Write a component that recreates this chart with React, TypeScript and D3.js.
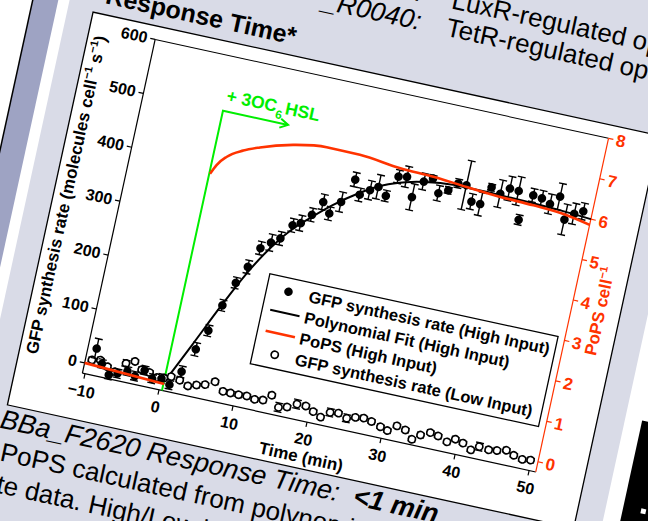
import React, { useEffect } from 'react';
import * as d3 from 'd3';

// GFP synthesis rate, high input (filled dots with error bars)
const hiTime = [-9.2, -8.1, -6.9, -5.8, -4.6, -3.5, -2.4, -1.2,
  0.0, 1.2, 2.4, 3.6, 4.7, 5.8, 6.9, 8.0, 9.1, 10.3,
  11.4, 12.6, 13.6, 14.8, 15.9, 17.0, 18.2, 19.4, 20.4, 21.6,
  22.6, 23.8, 24.9, 26.0, 27.2, 28.3, 29.4, 30.5, 31.7, 32.8,
  33.9, 35.0, 36.2, 37.2, 38.5, 39.6, 40.8, 41.6, 42.8, 44.0,
  45.2, 46.3, 47.5, 48.6, 49.7];
const hiRate = [30, 5, -12, -6, 2, -4, 10, -2,
  2, -6, 22, 67, 105, 155, 200, 233, 271, 285,
  296, 324, 331, 350, 377, 359, 384, 429, 404, 416,
  425, 412, 451, 454, 420, 452, 461, 437, 446, 462,
  462, 435, 434, 468, 460, 473, 472, 421, 470, 468,
  461, 478, 439, 453, 461];
const hiErr = [18, 8, 8, 8, 8, 8, 8, 8,
  8, 8, 10, 12, 10, 10, 10, 12, 12, 15,
  12, 12, 14, 12, 14, 12, 18, 13, 12, 17,
  22, 10, 12, 19, 24, 15, 6, 14, 6, 8,
  45, 14, 21, 6, 25, 22, 26, 9, 12, 14,
  18, 24, 28, 19, 15];

// GFP synthesis rate, low input (open circles)
const loTime = [-9.5, -8.4, -7.3, -6.2, -5.0, -3.9, -2.8, -1.7, -0.6,
  0.3, 1.2, 2.4, 3.6, 4.7, 5.8, 7.0, 8.3, 9.3, 10.4,
  11.5, 12.6, 13.7, 14.7, 15.9, 17.0, 18.2, 19.4, 20.5, 21.6,
  22.7, 23.8, 25.0, 26.1, 27.2, 28.3, 29.6, 30.6, 31.7, 32.9,
  34.0, 35.0, 36.2, 37.3, 38.6, 39.6, 40.7, 41.9, 42.9, 44.2,
  45.3, 46.5, 47.6, 48.8, 49.9];
const loRate = [8, 11, 2, -4, 15, 22, 10, 8, 2,
  4, 9, 6, -1, 4, 8, 17, 3, 3, 3,
  4, 1, 3, 15, -4, 0, 9, 9, 2, -5,
  7, 9, 3, 8, 10, 7, 1, -3, 9, 5,
  -9, 2, 10, 7, 0, 8, 4, -5, 4, 2,
  4, 8, 2, -2, 0];
const loErr = [4, 4, 4, 4, 6, 4, 4, 4, 4,
  4, 4, 4, 4, 4, 4, 4, 4, 4, 4,
  4, 4, 4, 4, 8, 4, 8, 4, 4, 4,
  7, 4, 7, 4, 4, 4, 4, 4, 4, 4,
  4, 4, 4, 4, 4, 4, 4, 4, 7, 4,
  4, 4, 4, 4, 4];

// polynomial fit (high input)
const fitTime = [0.5, 3.0, 5.7, 8.0, 10.5, 12.8, 15.0, 17.2, 20.3, 23.2, 26.0, 29.5, 33.0, 36.3, 40.0, 43.0, 46.5, 50.9];
const fitRate = [-2, 73, 155, 220, 278, 319, 348, 375, 407, 430, 444, 454, 458, 458, 457, 456, 454, 450];

// PoPS (high input), right axis
const popsPreTime = [-10.35, 0.5];
const popsPreValue = [0.0, -0.09];
const popsTime = [0.5, 1.1, 2.2, 4.15, 6.2, 10.4, 14.8, 19.3, 24.9, 29.4, 34.0, 38.6, 43.1, 47.7, 50.9];
const popsValue = [5.11, 5.35, 5.6, 5.83, 5.99, 6.22, 6.34, 6.33, 6.22, 6.19, 6.12, 6.06, 6.03, 5.97, 5.86];

const xTicks = [-10, 0, 10, 20, 30, 40, 50];
const yTicks = [0, 100, 200, 300, 400, 500, 600];
const popsTicks = [0, 1, 2, 3, 4, 5, 6, 7, 8];
const legendLabels = [
  'GFP synthesis rate (High Input)',
  'Polynomial Fit (High Input)',
  'PoPS (High Input)',
  'GFP synthesis rate (Low Input)',
];

// induction annotation (time, level in GFP units)
const inductionTime = 0.4;
const arrowEndTime = 9.2;
const arrowLevel = 500;

const FONT = '"Liberation Sans", Arial, Helvetica, sans-serif';
const RED = '#ff3300';
const GREEN = '#00ee00';
const PANEL = '#d9dbe7';
const STRIP = '#9ea3c3';
const ANGLE = 12.3;

export default function App() {
  useEffect(() => {
    document.body.style.margin = '0';
  }, []);

  // plot frame (unrotated slide coords)
  const left = 160, right = 624, top = 5.5, bottom = 347;
  const x = d3.scaleLinear().domain([-10.35, 50.9]).range([left, right]);
  const y = d3.scaleLinear().domain([-19, 600]).range([bottom, top]);
  const yPops = d3.scaleLinear().domain([-19 / 75, 8]).range([bottom, top]);
  const fmt = d3.format('d');

  const fitPath = d3.line<number>()
    .x((_, i) => x(fitTime[i]))
    .y(d => y(d))
    .curve(d3.curveMonotoneX)(fitRate);
  const popsPath = d3.line<number>()
    .x((_, i) => x(popsTime[i]))
    .y(d => yPops(d))
    .curve(d3.curveMonotoneX)(popsValue);
  const popsPrePath = d3.line<number>()
    .x((_, i) => x(popsPreTime[i]))
    .y(d => yPops(d))(popsPreValue);

  const errBar = (t: number, v: number, e: number, key: string) => {
    const cx = x(t);
    return (
      <g key={key} stroke="#000" strokeWidth={1.4}>
        <line x1={cx} x2={cx} y1={y(v - e)} y2={y(v + e)} />
        <line x1={cx - 4} x2={cx + 4} y1={y(v - e)} y2={y(v - e)} />
        <line x1={cx - 4} x2={cx + 4} y1={y(v + e)} y2={y(v + e)} />
      </g>
    );
  };

  const legX = 322, legY = 210, legW = 295, legH = 92, rowH = 21.5;

  return (
    <svg width={648} height={521} style={{ display: 'block', position: 'absolute', left: 0, top: 0 }}
      fontFamily={FONT}>
      <rect width={648} height={521} fill="#fff" />
      <g transform={`rotate(${ANGLE})`}>
        {/* slide background */}
        <rect x={68} y={-300} width={1000} height={1200} fill={PANEL} />
        <rect x={32} y={-300} width={25} height={1200} fill={STRIP} />
        <line x1={32} x2={32} y1={-300} y2={900} stroke="#000" strokeWidth={1.5} />
        <rect x={700} y={-300} width={300} height={1200} fill="#fff" />
        <rect x={717} y={274} width={300} height={600} fill="#000" />
        <rect x={735} y={360} width={5} height={5} fill="#fff" />

        {/* slide texts */}
        <text x={297} y={-19} fontSize={25} fontWeight="bold" textAnchor="end">Response Time*</text>
        <text x={412} y={-88} fontSize={26} fontStyle="italic" textAnchor="end">BBa_R0062:</text>
        <text x={442} y={-88} fontSize={26}>LuxR-regulated operator</text>
        <text x={416} y={-60} fontSize={26.5} fontStyle="italic" textAnchor="end">_R0040:</text>
        <text x={442} y={-60} fontSize={26}>TetR-regulated operator</text>

        <text x={90} y={418} fontSize={27} fontStyle="italic">
          BBa_F2620 Response Time:<tspan fontWeight="bold">{'\u00a0\u00a0<1 min'}</tspan>
        </text>
        <text x={97} y={450} fontSize={26}>PoPS calculated from polynomial fit to GFP synthesis</text>
        <text x={77} y={482} fontSize={26}>rate data.  High/Low input = 5 nM / 0 nM 3OC6HSL</text>

        {/* white chart box */}
        <rect x={93.5} y={-8} width={579.5} height={402} fill="#fff" stroke="#000" strokeWidth={1.3} />

        {/* frame */}
        <line x1={left} x2={right} y1={top} y2={top} stroke="#000" strokeWidth={1} />
        <line x1={left} x2={left} y1={top} y2={bottom} stroke="#000" strokeWidth={1.2} />
        <line x1={left} x2={right} y1={bottom} y2={bottom} stroke="#000" strokeWidth={1.2} />
        <line x1={right} x2={right} y1={top} y2={bottom} stroke={RED} strokeWidth={1.2} />

        {/* left axis */}
        {yTicks.map(t => (
          <g key={'y' + t}>
            <line x1={left - 5} x2={left} y1={y(t)} y2={y(t)} stroke="#000" strokeWidth={1.2} />
            <text x={left - 8} y={y(t) + 5.5} fontSize={16} fontWeight="bold" textAnchor="end">{fmt(t)}</text>
          </g>
        ))}
        <text transform={`translate(112,${(top + bottom) / 2}) rotate(-90)`} fontSize={17} fontWeight="bold" textAnchor="middle">
          GFP synthesis rate (molecules cell<tspan fontSize={11} dy={-7}>−1</tspan>
          <tspan dy={7}> s</tspan><tspan fontSize={11} dy={-7}>−1</tspan><tspan dy={7}>)</tspan>
        </text>

        {/* bottom axis */}
        {xTicks.map(t => (
          <g key={'x' + t}>
            <line x1={x(t)} x2={x(t)} y1={bottom} y2={bottom + 5} stroke="#000" strokeWidth={1.2} />
            <text x={x(t)} y={bottom + 23} fontSize={16} fontWeight="bold" textAnchor="middle">{fmt(t).replace('-', '−')}</text>
          </g>
        ))}
        <text x={x(20.2)} y={bottom + 41} fontSize={17} fontWeight="bold" textAnchor="middle">Time (min)</text>

        {/* right axis */}
        {popsTicks.map(t => (
          <g key={'p' + t}>
            <line x1={right} x2={right + 5} y1={yPops(t)} y2={yPops(t)} stroke={RED} strokeWidth={1.2} />
            <text x={right + 8} y={yPops(t) + 6} fontSize={17} fontWeight="bold" fill={RED}>{t}</text>
          </g>
        ))}
        <text transform={`translate(658,${(top + bottom) / 2}) rotate(-90)`} fontSize={17} fontWeight="bold" fill={RED} textAnchor="middle">
          PoPS cell<tspan fontSize={11} dy={-7}>−1</tspan>
        </text>

        {/* induction marker */}
        <polyline
          points={`${x(inductionTime)},${bottom} ${x(inductionTime)},${y(arrowLevel)} ${x(arrowEndTime)},${y(arrowLevel)}`}
          fill="none" stroke={GREEN} strokeWidth={2} />
        <polyline
          points={`${x(arrowEndTime) - 8},${y(arrowLevel) - 4.5} ${x(arrowEndTime)},${y(arrowLevel)} ${x(arrowEndTime) - 8},${y(arrowLevel) + 4.5}`}
          fill="none" stroke={GREEN} strokeWidth={2} />
        <text x={x(0.5)} y={y(518)} fontSize={17.5} fontWeight="bold" fill={GREEN}>
          + 3OC<tspan fontSize={12} dy={6}>6</tspan><tspan dy={-6} dx={2}>HSL</tspan>
        </text>

        {/* polynomial fit */}
        <path d={fitPath ?? ''} fill="none" stroke="#000" strokeWidth={2} />

        {/* low input */}
        {loTime.map((t, i) => errBar(t, loRate[i], loErr[i], 'le' + i))}
        {loTime.map((t, i) => (
          <circle key={'lo' + i} cx={x(t)} cy={y(loRate[i])} r={3.6} fill="#fff" stroke="#000" strokeWidth={1.7} />
        ))}

        {/* high input */}
        {hiTime.map((t, i) => errBar(t, hiRate[i], hiErr[i], 'he' + i))}
        {hiTime.map((t, i) => (
          <circle key={'hi' + i} cx={x(t)} cy={y(hiRate[i])} r={4.3} fill="#000" />
        ))}

        {/* PoPS */}
        <path d={popsPrePath ?? ''} fill="none" stroke={RED} strokeWidth={2.6} />
        <path d={popsPath ?? ''} fill="none" stroke={RED} strokeWidth={2.6} />

        {/* legend */}
        <rect x={legX} y={legY} width={legW} height={legH} fill="#fff" stroke="#000" strokeWidth={1.3} />
        {legendLabels.map((label, i) => {
          const cy = legY + 13.6 + i * rowH;
          return (
            <g key={'lg' + i}>
              {i === 0 && <circle cx={legX + 22} cy={cy} r={4.3} fill="#000" />}
              {i === 1 && <line x1={legX + 8} x2={legX + 38} y1={cy} y2={cy} stroke="#000" strokeWidth={2} />}
              {i === 2 && <line x1={legX + 8} x2={legX + 38} y1={cy} y2={cy} stroke={RED} strokeWidth={2.6} />}
              {i === 3 && <circle cx={legX + 22} cy={cy} r={3.6} fill="#fff" stroke="#000" strokeWidth={1.7} />}
              <text x={legX + 43} y={cy + 6} fontSize={16.5} fontWeight="bold">{label}</text>
            </g>
          );
        })}
      </g>
    </svg>
  );
}
